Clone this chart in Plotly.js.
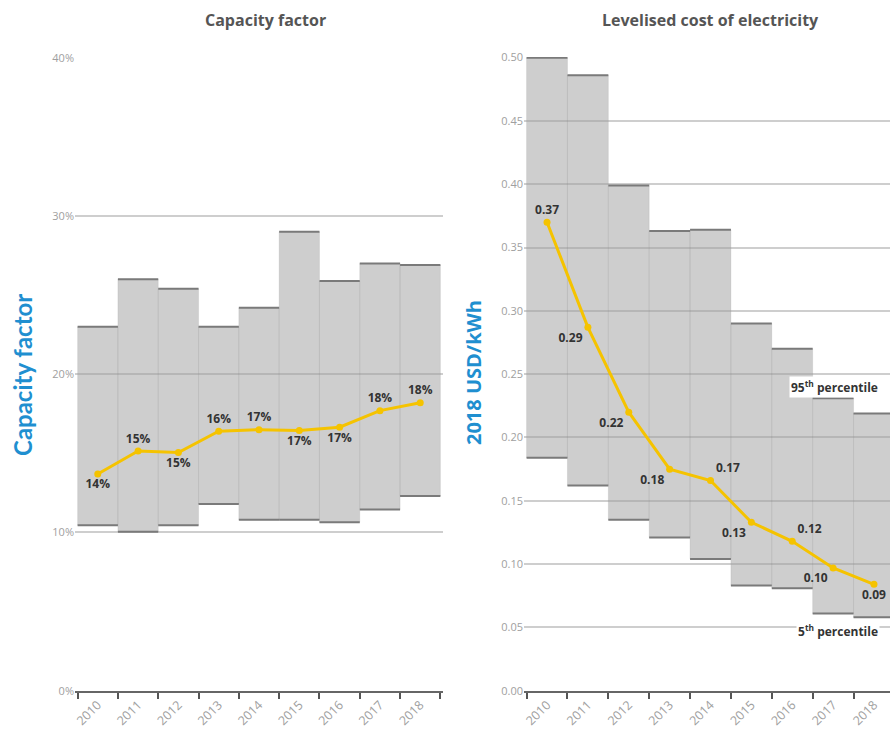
<!DOCTYPE html>
<html>
<head>
<meta charset="utf-8">
<script src="https://cdn.plot.ly/plotly-3.0.1.min.js"></script>
<style>
  html, body { margin: 0; padding: 0; overflow: hidden; background: #fff; }
  #chart { width: 910px; height: 735px; }
</style>
</head>
<body>
<div id="chart"></div>
<script>
// ---- data ----
const years = ["2010","2011","2012","2013","2014","2015","2016","2017","2018"];

// Capacity factor (%)
const cfP95 = [23.0, 26.0, 25.4, 23.0, 24.2, 29.0, 25.9, 27.0, 26.9];
const cfP5  = [10.45, 10.05, 10.45, 11.8, 10.8, 10.8, 10.65, 11.45, 12.3];
const cfAvg = [13.7, 15.15, 15.05, 16.4, 16.5, 16.45, 16.65, 17.7, 18.2];
const cfLabels = ["14%","15%","15%","16%","17%","17%","17%","18%","18%"];

// LCOE (2018 USD/kWh)
const lcP95 = [0.500, 0.486, 0.399, 0.363, 0.364, 0.290, 0.270, 0.231, 0.219];
const lcP5  = [0.184, 0.162, 0.135, 0.121, 0.104, 0.083, 0.081, 0.061, 0.058];
const lcAvg = [0.370, 0.287, 0.220, 0.175, 0.166, 0.133, 0.118, 0.097, 0.084];
const lcLabels = ["0.37","0.29","0.22","0.18","0.17","0.13","0.12","0.10","0.09"];

// ---- styles ----
const W = 910, H = 735;
const cfTextPos = ["bottom center","top center","bottom center","top center","top center","bottom center","bottom center","top center","top center"];
const lcTextPos = ["top center","bottom left","bottom left","bottom left","top right","bottom left","top right","bottom left","bottom center"];
const barFill = "rgba(158,158,158,0.5)";
const sepColor = "rgba(150,150,150,0.18)";
const edgeColor = "#7a7a7a";
const yellow = "#f5c300";
const blue = "#1f8fd0";
const labelFont = {family: "Open Sans, sans-serif", size: 12, color: "#333", weight: 700};
const yTickFont = {family: "Open Sans, sans-serif", size: 11, color: "#a0a0a0"};
const xTickFont = {family: "Open Sans, sans-serif", size: 12.5, color: "#a0a0a0"};

function diff(a, b) { return a.map((v, i) => v - b[i]); }

const traces = [
  {type: "bar", x: years, y: diff(cfP95, cfP5), base: cfP5, xaxis: "x", yaxis: "y",
   marker: {color: barFill, line: {width: 1, color: sepColor}},
   hoverinfo: "skip", showlegend: false},
  {type: "scatter", mode: "lines+markers+text", x: years, y: cfAvg, xaxis: "x", yaxis: "y",
   text: cfLabels, textposition: cfTextPos, textfont: labelFont,
   line: {color: yellow, width: 3}, marker: {color: yellow, size: 7}, showlegend: false, cliponaxis: false},
  {type: "bar", x: years, y: diff(lcP95, lcP5), base: lcP5, xaxis: "x2", yaxis: "y2",
   marker: {color: barFill, line: {width: 1, color: sepColor}},
   hoverinfo: "skip", showlegend: false},
  {type: "scatter", mode: "lines+markers+text", x: years, y: lcAvg, xaxis: "x2", yaxis: "y2",
   text: lcLabels, textposition: lcTextPos, textfont: labelFont,
   line: {color: yellow, width: 3}, marker: {color: yellow, size: 7}, showlegend: false, cliponaxis: false}
];

// horizontal edges of the percentile boxes
const shapes = [];
function edges(vals, xr, yr) {
  vals.forEach((v, i) => shapes.push({type: "line", xref: xr, yref: yr, x0: i - 0.5, x1: i + 0.5, y0: v, y1: v,
    line: {color: edgeColor, width: 2}, layer: "above"}));
}
edges(cfP95, "x", "y"); edges(cfP5, "x", "y");
edges(lcP95, "x2", "y2"); edges(lcP5, "x2", "y2");

const yDom = [44.3 / H, 678 / H];
const xCommon = {type: "category", tickson: "boundaries", ticks: "outside", ticklen: 6, tickwidth: 2,
  tickcolor: "#555", showline: true, linecolor: "#666", linewidth: 2, showgrid: false,
  tickangle: -45, tickfont: xTickFont, fixedrange: true};
const yCommon = {showgrid: true, gridcolor: "#cecece", gridwidth: 2, zeroline: false, showline: false,
  ticks: "", tickfont: yTickFont, fixedrange: true};

const layout = {
  width: W, height: H,
  margin: {l: 0, r: 0, t: 0, b: 0},
  paper_bgcolor: "#fff", plot_bgcolor: "#fff",
  bargap: 0, barmode: "overlay", showlegend: false,
  xaxis: Object.assign({}, xCommon, {domain: [75 / W, 443 / W], anchor: "y"}),
  yaxis: Object.assign({}, yCommon, {domain: yDom, range: [0, 40.05], dtick: 10, ticksuffix: "%", anchor: "x"}),
  xaxis2: Object.assign({}, xCommon, {domain: [524 / W, 897 / W], anchor: "y2"}),
  yaxis2: Object.assign({}, yCommon, {domain: yDom, range: [0, 0.5005], dtick: 0.05, tickformat: ".2f", anchor: "x2"}),
  shapes: shapes,
  annotations: [
    {text: "Capacity factor", xref: "paper", yref: "paper", x: 265 / W, y: (H - 20) / H,
     showarrow: false, xanchor: "center", yanchor: "middle",
     font: {family: "Open Sans, sans-serif", size: 16, color: "#555", weight: 700}},
    {text: "Levelised cost of electricity", xref: "paper", yref: "paper", x: 710 / W, y: (H - 20) / H,
     showarrow: false, xanchor: "center", yanchor: "middle",
     font: {family: "Open Sans, sans-serif", size: 16, color: "#555", weight: 700}},
    {text: "Capacity factor", xref: "paper", yref: "paper", x: 22 / W, y: (H - 375) / H, textangle: -90,
     showarrow: false, xanchor: "center", yanchor: "middle",
     font: {family: "Lato, sans-serif", size: 24, color: blue, weight: 700}},
    {text: "2018 USD/kWh", xref: "paper", yref: "paper", x: 474 / W, y: (H - 373) / H, textangle: -90,
     showarrow: false, xanchor: "center", yanchor: "middle",
     font: {family: "Open Sans, sans-serif", size: 20, color: blue, weight: 700}},
    {text: "95<sup>th</sup> percentile", xref: "x2", yref: "y2", x: 5.93, y: 0.240,
     showarrow: false, xanchor: "left", yanchor: "middle", bgcolor: "#fff", borderpad: 1,
     font: {family: "Open Sans, sans-serif", size: 12, color: "#333", weight: 700}},
    {text: "5<sup>th</sup> percentile", xref: "x2", yref: "y2", x: 6.08, y: 0.047,
     showarrow: false, xanchor: "left", yanchor: "middle", bgcolor: "#fff", borderpad: 1,
     font: {family: "Open Sans, sans-serif", size: 12, color: "#333", weight: 700}}
  ]
};

Plotly.newPlot("chart", traces, layout, {staticPlot: true, displayModeBar: false});
</script>
</body>
</html>
